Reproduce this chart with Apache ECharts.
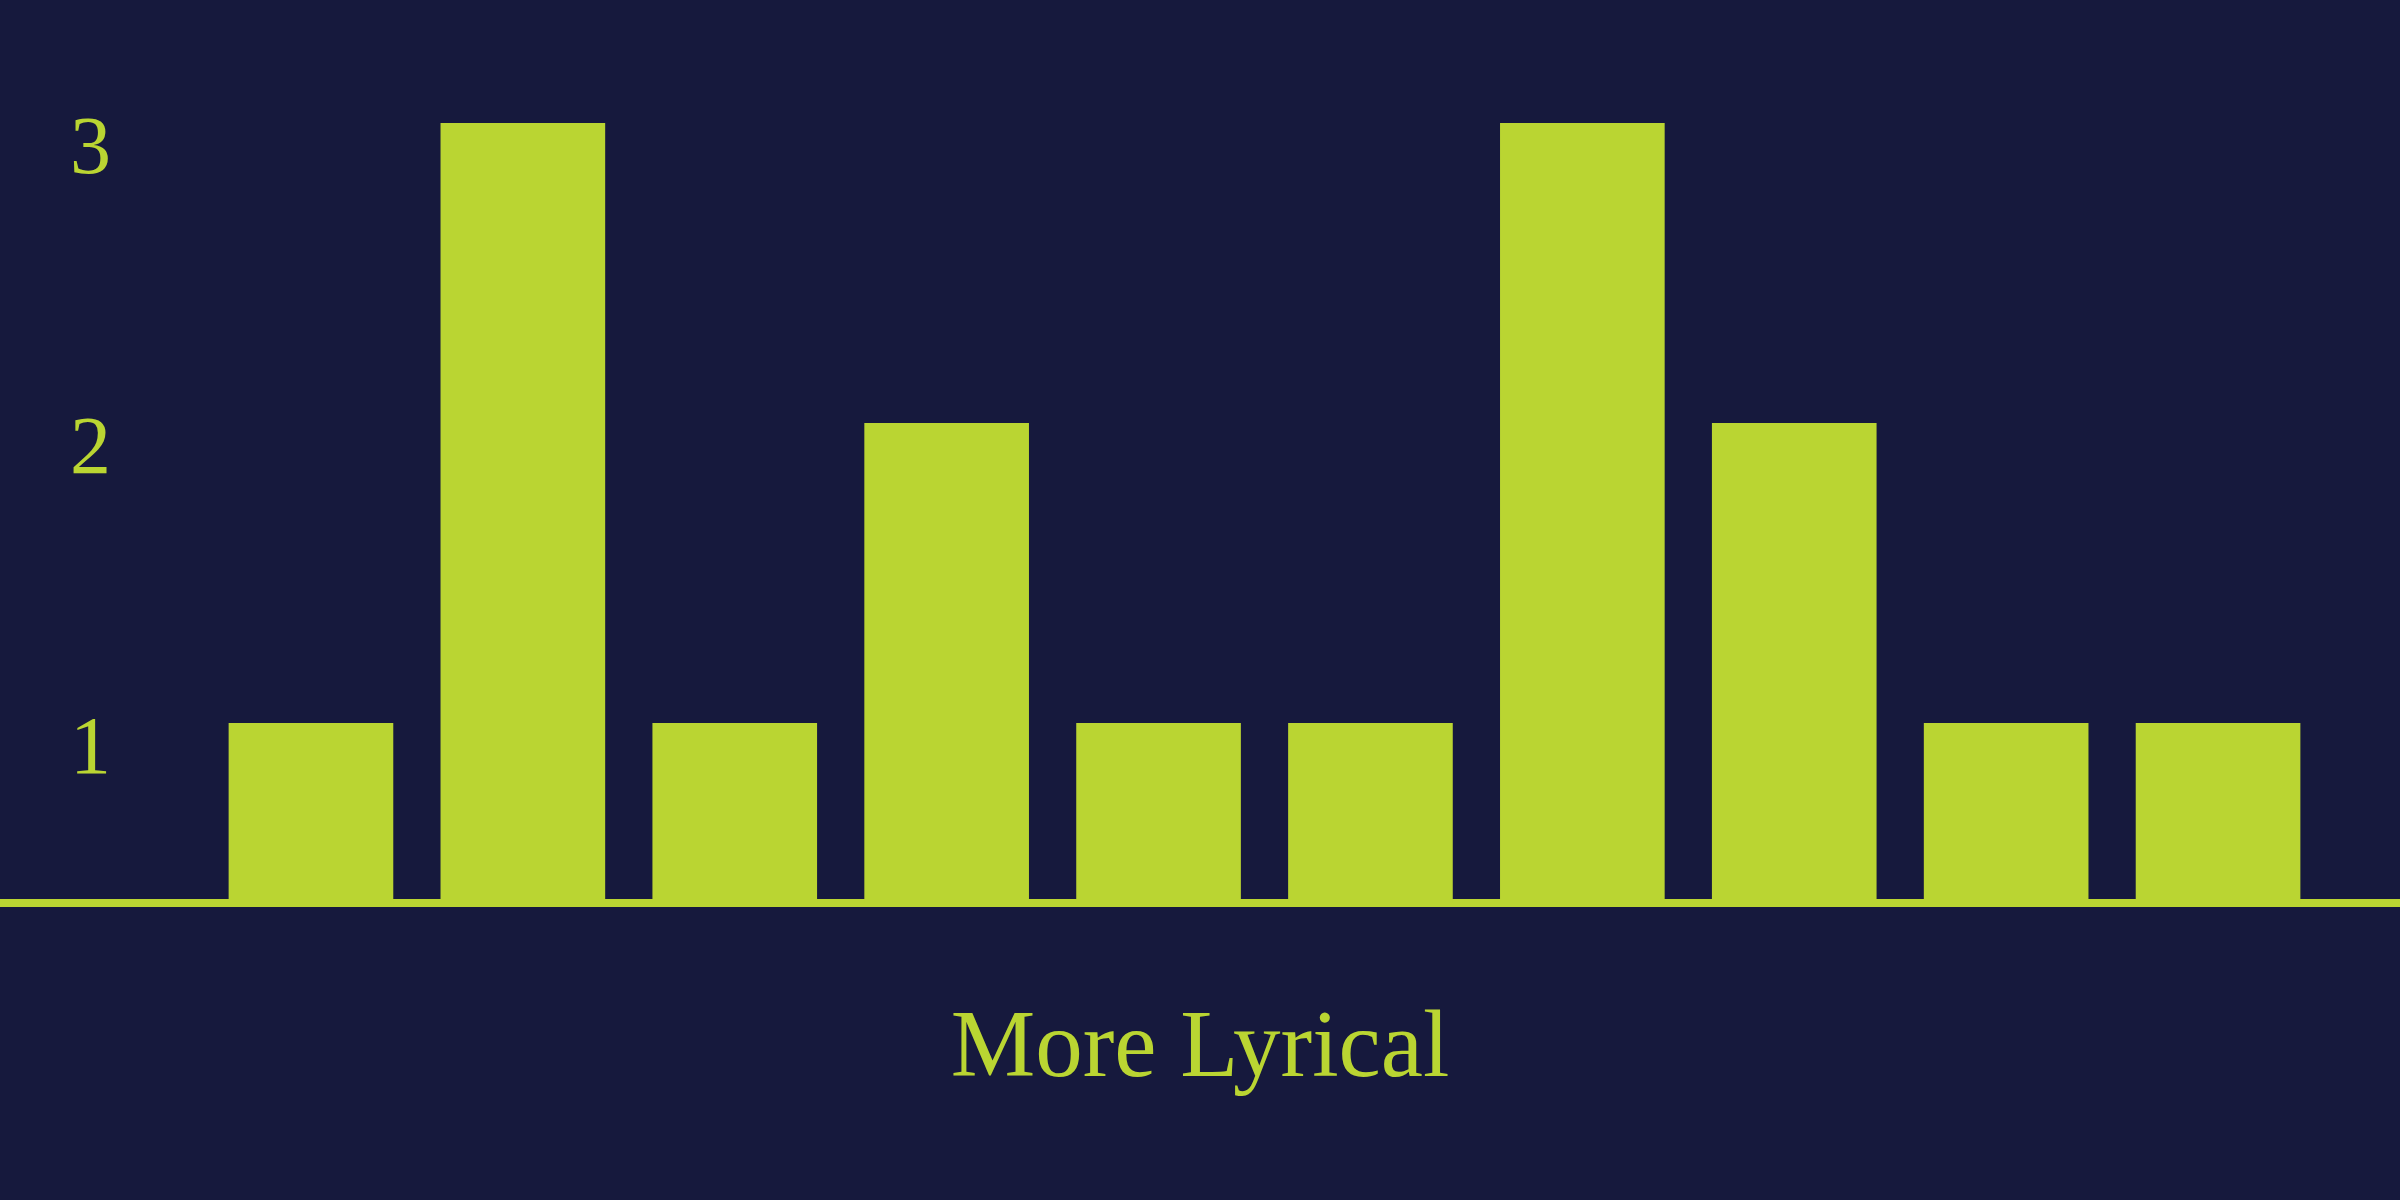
<!DOCTYPE html>
<html>
<head>
<meta charset="utf-8">
<script src="https://cdn.jsdelivr.net/npm/echarts@6/dist/echarts.min.js"></script>
<style>
  html, body { margin: 0; padding: 0; background: #16193d; }
  #chart-container { width: 2400px; height: 1200px; }
</style>
</head>
<body>
<div id="chart-container"></div>
<script>
// bins along the "More Lyrical" axis (no labels shown in the picture)
var categories = ["1", "2", "3", "4", "5", "6", "7", "8", "9", "10"];
var counts = [1, 3, 1, 2, 1, 1, 3, 2, 1, 1];
var yTicks = [1, 2, 3];
var axisTitle = "More Lyrical";

var lime = "#bad532";
var navy = "#16193d";

var chartDom = document.getElementById("chart-container");
var myChart = echarts.init(chartDom);

var option = {
  backgroundColor: navy,
  animation: false,
  grid: [
    // grid for the bars
    { left: 205, right: 76, top: 63, bottom: 297 },
    // full-width grid that only carries the baseline
    { left: 0, right: 0, top: 63, bottom: 297 }
  ],
  xAxis: [
    {
      type: "category",
      gridIndex: 0,
      data: categories,
      axisLine: { show: false },
      axisTick: { show: false },
      axisLabel: { show: false }
    },
    {
      type: "value",
      gridIndex: 1,
      min: 0,
      max: 1,
      axisLine: { show: true, lineStyle: { color: lime, width: 8 } },
      axisTick: { show: false },
      axisLabel: { show: false },
      splitLine: { show: false }
    }
  ],
  yAxis: [
    {
      type: "value",
      gridIndex: 0,
      min: 0.4,
      max: 3.2,
      axisLine: { show: false },
      axisTick: { show: false },
      splitLine: { show: false },
      axisLabel: {
        customValues: yTicks,
        color: lime,
        fontFamily: "Liberation Serif",
        fontSize: 82,
        lineHeight: 57,
        align: "left",
        verticalAlign: "top",
        margin: 135
      }
    },
    {
      type: "value",
      gridIndex: 1,
      min: 0,
      max: 1,
      show: false
    }
  ],
  graphic: [
    {
      type: "text",
      x: 1200,
      y: 1051,
      style: {
        text: axisTitle,
        fill: lime,
        font: "95px 'Liberation Serif'",
        textAlign: "center",
        textVerticalAlign: "middle"
      }
    }
  ],
  series: [
    {
      name: "Count",
      type: "bar",
      xAxisIndex: 0,
      yAxisIndex: 0,
      data: counts,
      barCategoryGap: "22.3%",
      itemStyle: { color: lime }
    }
  ]
};

myChart.setOption(option);
</script>
</body>
</html>
